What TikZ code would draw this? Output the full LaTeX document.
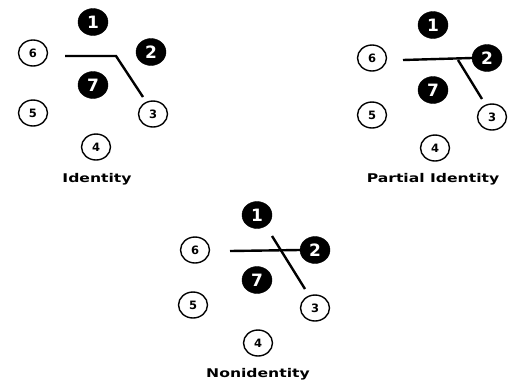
\documentclass[tikz,border=0pt]{standalone}
\usepackage{fontspec}
\usetikzlibrary{shapes.geometric}
\setmainfont{Liberation Sans}
\newfontfamily\labfont[FakeStretch=1.3]{DejaVu Sans Bold}
\newfontfamily\numfont{DejaVu Sans Bold}
\begin{document}
\begin{tikzpicture}[x=1pt,y=-1pt,
  blk/.style={ellipse,fill=black,draw=black,inner sep=0pt,minimum width=30pt,minimum height=27pt,text=white,font=\numfont\fontsize{17}{17}\selectfont},
  wht/.style={ellipse,draw=black,line width=1.4pt,fill=white,inner sep=0pt,minimum width=29pt,minimum height=26pt,font=\numfont\fontsize{11.5}{11.5}\selectfont},
  lab/.style={font=\labfont\fontsize{12}{12}\selectfont},
  bar/.style={line width=2.4pt}]
\useasboundingbox (0,0) rectangle (508,383);
% Identity
\node[blk] (a1) at (93,22) {1};
\node[blk] (a2) at (151,52) {2};
\node[blk] (a7) at (93,85) {7};
\node[wht] (a6) at (33,53) {6};
\node[wht] (a5) at (33,113) {5};
\node[wht] (a3) at (153,114) {3};
\node[wht] (a4) at (96,147) {4};
\node[lab] (la) at (97,179) {Identity};
\coordinate (as) at (65,56);
\coordinate (ak) at (116,56);
\coordinate (ae) at (143,97);
\draw[bar] (as) -- (ak) -- (ae);
% Partial identity
\node[blk] (b1) at (433,25) {1};
\node[blk] (b2) at (487,58) {2};
\node[blk] (b7) at (433,90) {7};
\node[wht] (b6) at (372,58) {6};
\node[wht] (b5) at (372,115) {5};
\node[wht] (b3) at (492,117) {3};
\node[wht] (b4) at (435,148) {4};
\node[lab] (lb) at (433,179) {Partial Identity};
\coordinate (bs) at (403,60);
\coordinate (bk) at (458,60);
\coordinate (be) at (482,99);
\draw[bar] (bs) -- (b2.west);
\draw[bar] (bk) -- (be);
% Nonidentity
\node[blk] (c1) at (257,215) {1};
\node[blk] (c2) at (315,250) {2};
\node[blk] (c7) at (257,280) {7};
\node[wht] (c6) at (195,250) {6};
\node[wht] (c5) at (193,305) {5};
\node[wht] (c3) at (315,308) {3};
\node[wht] (c4) at (258,343) {4};
\node[lab] (lc) at (258,374) {Nonidentity};
\coordinate (cs) at (230,251);
\coordinate (cd) at (272,236);
\coordinate (ce) at (305,289);
\draw[bar] (cs) -- (c2.west);
\draw[bar] (cd) -- (ce);
\end{tikzpicture}
\end{document}
